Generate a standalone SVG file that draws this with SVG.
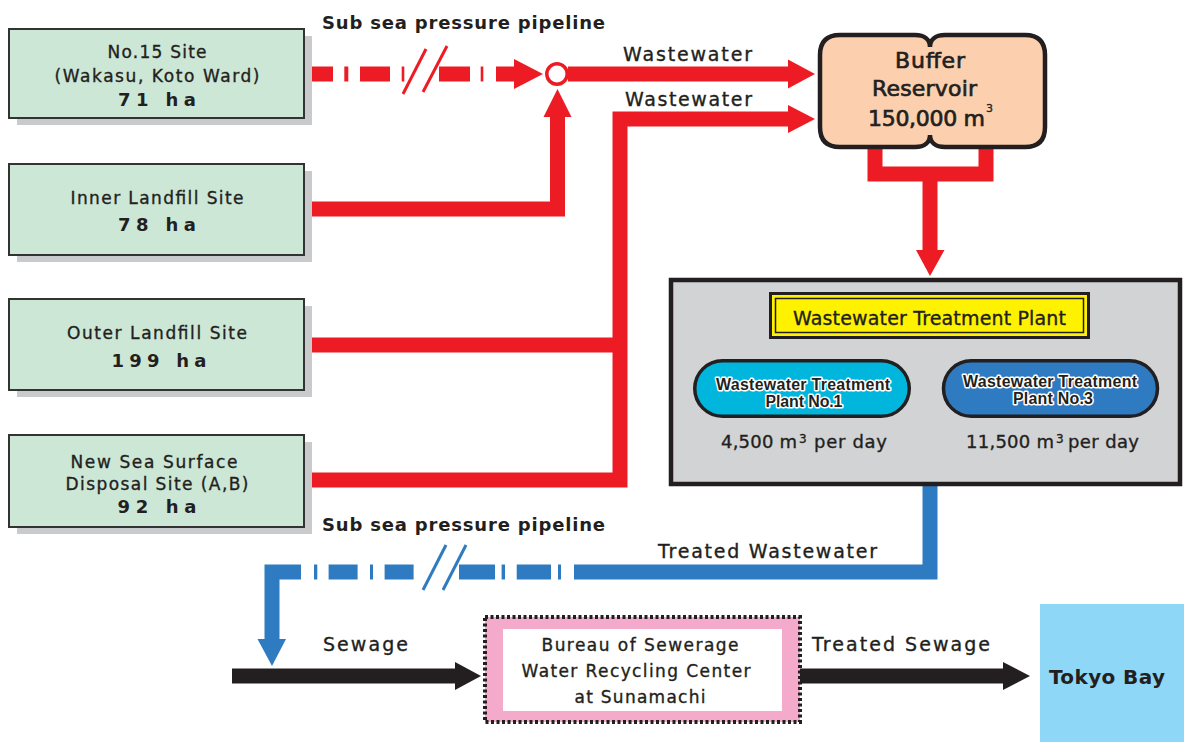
<svg xmlns="http://www.w3.org/2000/svg" width="1184" height="742" viewBox="0 0 1184 742">
<style>
.t{font-family:"DejaVu Sans","Liberation Sans",sans-serif;fill:#231f20;stroke:#231f20;stroke-width:0.35}
.b{font-weight:bold;stroke-width:0}
.m{stroke-width:0.7}
.box{fill:#cde7d6;stroke:#333;stroke-width:2}
.sh{fill:#c9cacb}
.rl{fill:none;stroke:#ed1c24;stroke-width:15;stroke-linejoin:miter;stroke-linecap:butt}
.rf{fill:#ed1c24}
.bl{fill:none;stroke:#2e7bc1;stroke-width:15;stroke-linejoin:miter;stroke-linecap:butt}
.bf{fill:#2e7bc1}
.kf{fill:#231f20}
.halo{font-family:"Liberation Sans","DejaVu Sans",sans-serif;font-weight:bold;font-size:16px;fill:#231f20;stroke:#fff;stroke-width:3;paint-order:stroke;stroke-linejoin:round}
</style>
<rect width="1184" height="742" fill="#fff"/>

<g id="connectors">
  <rect class="rf" x="304" y="66.5" width="29" height="15"/>
  <rect class="rf" x="344.3" y="66.5" width="4" height="15"/>
  <rect class="rf" x="360" y="66.5" width="30" height="15"/>
  <rect class="rf" x="401.7" y="66.5" width="2.6" height="15"/>
  <rect class="rf" x="439" y="66.5" width="31" height="15"/>
  <rect class="rf" x="480.7" y="66.5" width="2.6" height="15"/>
  <rect class="rf" x="496" y="66.5" width="19" height="15"/>
  <polygon class="rf" points="514,59 543,74 514,89"/>
  <line x1="403" y1="94" x2="426" y2="49" stroke="#ed1c24" stroke-width="3"/>
  <line x1="423" y1="92" x2="447" y2="46" stroke="#ed1c24" stroke-width="3"/>
  <path class="rl" d="M568,74 H790"/>
  <polygon class="rf" points="788,59.5 815,74 788,88.5"/>
  <circle cx="557" cy="74" r="10.2" fill="#fff" stroke="#ed1c24" stroke-width="3.5"/>
  <path class="rl" d="M304,209 H557.5 V115"/>
  <polygon class="rf" points="543.5,117 557.5,89 571.5,117"/>
  <path class="rl" d="M304,345 H620"/>
  <path class="rl" d="M304,480 H620 V119 H790"/>
  <polygon class="rf" points="788,105 815,119 788,133"/>
  <path class="rl" stroke-width="14" d="M875,147 V174 H986 V147"/>
  <path class="rl" stroke-width="14" d="M930,174 V251"/>
  <polygon class="rf" points="916,250 944.5,250 930,276"/>
  <path class="bl" d="M930,486 V572 H574"/>
  <rect class="bf" x="558" y="564.5" width="3" height="15"/>
  <rect class="bf" x="516.7" y="564.5" width="34.3" height="15"/>
  <rect class="bf" x="501.6" y="564.5" width="3.4" height="15"/>
  <rect class="bf" x="459" y="564.5" width="36" height="15"/>
  <rect class="bf" x="384.6" y="564.5" width="29" height="15"/>
  <rect class="bf" x="370" y="564.5" width="3" height="15"/>
  <rect class="bf" x="328.6" y="564.5" width="29" height="15"/>
  <rect class="bf" x="314" y="564.5" width="3.3" height="15"/>
  <line x1="423" y1="590" x2="446" y2="545" stroke="#2e7bc1" stroke-width="3"/>
  <line x1="443" y1="590" x2="466" y2="545" stroke="#2e7bc1" stroke-width="3"/>
  <path class="bl" d="M301,572 H272 V641"/>
  <polygon class="bf" points="257.5,639 286,639 272,666"/>
  <rect class="kf" x="232" y="668.5" width="224" height="15"/>
  <polygon class="kf" points="455,662 481,676 455,690"/>
  <rect class="kf" x="800" y="668.5" width="204" height="15"/>
  <polygon class="kf" points="1003,662 1030,676 1003,690"/>
</g>

<g id="labels">
  <text class="t b" x="463.5" y="29" font-size="18" text-anchor="middle" textLength="283" lengthAdjust="spacing">Sub sea pressure pipeline</text>
  <text class="t" x="623" y="61" font-size="19" textLength="129" lengthAdjust="spacing">Wastewater</text>
  <text class="t" x="625" y="106" font-size="19" textLength="127" lengthAdjust="spacing">Wastewater</text>
  <text class="t b" x="463.5" y="531" font-size="18" text-anchor="middle" textLength="283" lengthAdjust="spacing">Sub sea pressure pipeline</text>
  <text class="t" x="658" y="558" font-size="19" textLength="219" lengthAdjust="spacing">Treated Wastewater</text>
  <text class="t" x="323" y="651" font-size="19" textLength="85" lengthAdjust="spacing">Sewage</text>
  <text class="t" x="812" y="651" font-size="19" textLength="178" lengthAdjust="spacing">Treated Sewage</text>
</g>

<g id="node-no15">
  <rect class="sh" x="17" y="36" width="295" height="89"/>
  <rect class="box" x="9" y="29" width="295" height="89"/>
  <text class="t" x="157" y="58" font-size="17" text-anchor="middle" textLength="99" lengthAdjust="spacing">No.15 Site</text>
  <text class="t" x="157" y="82" font-size="17" text-anchor="middle" textLength="205" lengthAdjust="spacing">(Wakasu, Koto Ward)</text>
  <text class="t b" x="157" y="106" font-size="18" text-anchor="middle" textLength="78" lengthAdjust="spacing">71 ha</text>
</g>

<g id="node-inner">
  <rect class="sh" x="17" y="171" width="295" height="91"/>
  <rect class="box" x="9" y="164" width="295" height="91"/>
  <text class="t" x="157" y="204" font-size="17" text-anchor="middle" textLength="173" lengthAdjust="spacing">Inner Landfill Site</text>
  <text class="t b" x="157" y="231" font-size="18" text-anchor="middle" textLength="78" lengthAdjust="spacing">78 ha</text>
</g>

<g id="node-outer">
  <rect class="sh" x="17" y="306" width="295" height="91"/>
  <rect class="box" x="9" y="299" width="295" height="91"/>
  <text class="t" x="157" y="339" font-size="17" text-anchor="middle" textLength="180" lengthAdjust="spacing">Outer Landfill Site</text>
  <text class="t b" x="159" y="367" font-size="18" text-anchor="middle" textLength="95" lengthAdjust="spacing">199 ha</text>
</g>

<g id="node-newsea">
  <rect class="sh" x="17" y="442" width="295" height="92"/>
  <rect class="box" x="9" y="435" width="295" height="92"/>
  <text class="t" x="154" y="468" font-size="17" text-anchor="middle" textLength="167" lengthAdjust="spacing">New Sea Surface</text>
  <text class="t" x="157" y="490" font-size="17" text-anchor="middle" textLength="183" lengthAdjust="spacing">Disposal Site (A,B)</text>
  <text class="t b" x="157" y="513" font-size="18" text-anchor="middle" textLength="79" lengthAdjust="spacing">92 ha</text>
</g>

<g id="node-reservoir">
  <path d="M840,35 H915 C925,35 930,40 930,47 C930,40 935,35 945,35 H1025 Q1045,35 1045,55 V127 Q1045,147 1025,147 H945 C935,147 930,142 930,135 C930,142 925,147 915,147 H840 Q820,147 820,127 V55 Q820,35 840,35 Z" fill="#fcd0ae" stroke="#231f20" stroke-width="4.5"/>
  <text class="t m" x="930" y="68" font-size="22" text-anchor="middle" textLength="70" lengthAdjust="spacing">Buffer</text>
  <text class="t m" x="924.5" y="96" font-size="22" text-anchor="middle" textLength="105" lengthAdjust="spacing">Reservoir</text>
  <text class="t m" x="868" y="126" font-size="22" textLength="117" lengthAdjust="spacing">150,000 m</text>
  <text class="t" x="986" y="112" font-size="11">3</text>
</g>

<g id="node-plant">
  <rect x="671" y="280" width="509" height="204" fill="#d1d3d4" stroke="#231f20" stroke-width="4.5"/>
  <rect x="770.5" y="293.5" width="318" height="44" fill="#fff200" stroke="#231f20" stroke-width="3"/>
  <rect x="775.5" y="298.5" width="308" height="34" fill="none" stroke="#231f20" stroke-width="1.5"/>
  <text class="t" x="929.5" y="325" font-size="19" text-anchor="middle" textLength="273" lengthAdjust="spacing">Wastewater Treatment Plant</text>
</g>

<g id="node-plant1">
  <rect x="694.75" y="360.75" width="214.5" height="55.5" rx="27.75" fill="#00b6dd" stroke="#231f20" stroke-width="3.5"/>
  <text class="halo" x="803" y="390" text-anchor="middle" textLength="174" lengthAdjust="spacing">Wastewater Treatment</text>
  <text class="halo" x="804" y="407" text-anchor="middle" textLength="77" lengthAdjust="spacing">Plant No.1</text>
  <text class="t" x="721" y="448" font-size="18" textLength="76" lengthAdjust="spacing">4,500 m</text>
  <text class="t" x="799" y="443" font-size="12">3</text>
  <text class="t" x="814" y="448" font-size="18" textLength="73" lengthAdjust="spacing">per day</text>
</g>

<g id="node-plant3">
  <rect x="943.5" y="360.75" width="214" height="55.5" rx="27.75" fill="#2e7bc1" stroke="#231f20" stroke-width="3.5"/>
  <text class="halo" x="1050" y="387" text-anchor="middle" textLength="174" lengthAdjust="spacing">Wastewater Treatment</text>
  <text class="halo" x="1053" y="404" text-anchor="middle" textLength="80" lengthAdjust="spacing">Plant No.3</text>
  <text class="t" x="966" y="448" font-size="18" textLength="88" lengthAdjust="spacing">11,500 m</text>
  <text class="t" x="1056" y="443" font-size="12">3</text>
  <text class="t" x="1068" y="448" font-size="18" textLength="71" lengthAdjust="spacing">per day</text>
</g>

<g id="node-sunamachi">
  <rect x="485" y="617" width="315" height="105" fill="#f4aacb" stroke="#231f20" stroke-width="4" stroke-dasharray="3 2.5"/>
  <rect x="503" y="629" width="279" height="82" fill="#fff"/>
  <text class="t" x="640" y="651" font-size="17" text-anchor="middle" textLength="197" lengthAdjust="spacing">Bureau of Sewerage</text>
  <text class="t" x="636" y="677" font-size="17" text-anchor="middle" textLength="229" lengthAdjust="spacing">Water Recycling Center</text>
  <text class="t" x="640" y="703" font-size="17" text-anchor="middle" textLength="131" lengthAdjust="spacing">at Sunamachi</text>
</g>

<g id="node-tokyobay">
  <rect x="1040" y="604" width="144" height="138" fill="#8fd7f6"/>
  <text class="t b" x="1107" y="684" font-size="20" text-anchor="middle" textLength="116" lengthAdjust="spacing">Tokyo Bay</text>
</g>
</svg>
